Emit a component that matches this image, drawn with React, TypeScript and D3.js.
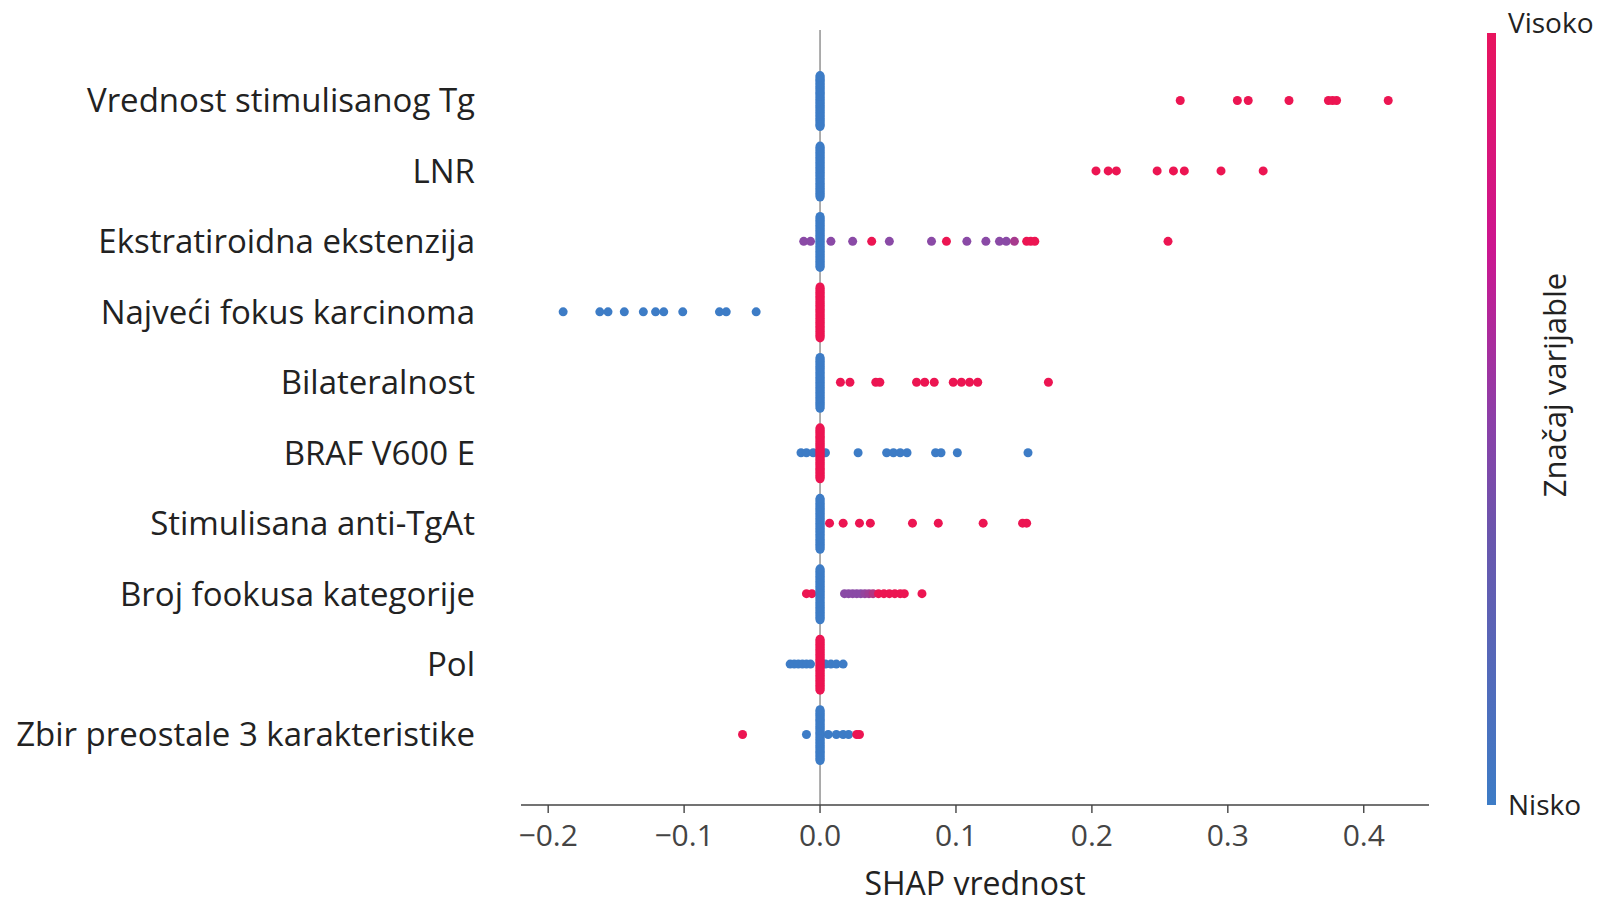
import React from "react";
import * as d3 from "d3";

// ---- data ----
const features = [
  "Vrednost stimulisanog Tg",
  "LNR",
  "Ekstratiroidna ekstenzija",
  "Najveći fokus karcinoma",
  "Bilateralnost",
  "BRAF V600 E",
  "Stimulisana anti-TgAt",
  "Broj fookusa kategorije",
  "Pol",
  "Zbir preostale 3 karakteristike",
];

// feature value (0 = low/blue, 1 = high/red) of the pile of points at SHAP = 0
const zeroPileValue = [0, 0, 0, 1, 0, 1, 0, 0, 1, 0];
const zeroPileCount = [44, 42, 42, 40, 42, 44, 42, 42, 42, 44];

// SHAP values of the non-zero points, per feature
const shapValues: number[][] = [
  [0.265, 0.307, 0.315, 0.345, 0.374, 0.377, 0.38, 0.418],
  [0.203, 0.212, 0.218, 0.248, 0.26, 0.268, 0.295, 0.326],
  [-0.012, -0.007, 0.008, 0.024, 0.038, 0.051, 0.082, 0.093, 0.108, 0.122, 0.132, 0.137, 0.143, 0.152, 0.155, 0.158, 0.256],
  [-0.189, -0.162, -0.156, -0.144, -0.13, -0.121, -0.115, -0.101, -0.074, -0.069, -0.047],
  [0.015, 0.022, 0.041, 0.044, 0.071, 0.077, 0.084, 0.098, 0.104, 0.11, 0.116, 0.168],
  [-0.014, -0.01, -0.005, 0.004, 0.028, 0.049, 0.054, 0.059, 0.064, 0.085, 0.089, 0.101, 0.153],
  [0.007, 0.017, 0.029, 0.037, 0.068, 0.087, 0.12, 0.149, 0.152],
  [-0.01, -0.006, 0.018, 0.021, 0.024, 0.027, 0.03, 0.033, 0.036, 0.039, 0.043, 0.047, 0.051, 0.055, 0.059, 0.062, 0.075],
  [-0.022, -0.019, -0.016, -0.013, -0.01, -0.007, 0.004, 0.008, 0.012, 0.017],
  [-0.057, -0.01, 0.006, 0.012, 0.017, 0.021, 0.027, 0.029],
];

// normalized feature values of those points
const featureValues: number[][] = [
  [1, 1, 1, 1, 1, 1, 1, 1],
  [1, 1, 1, 1, 1, 1, 1, 1],
  [0.5, 0.5, 0.5, 0.5, 1, 0.5, 0.5, 1, 0.5, 0.5, 0.5, 0.5, 0.65, 1, 1, 1, 1],
  [0, 0, 0, 0, 0, 0, 0, 0, 0, 0, 0],
  [1, 1, 1, 1, 1, 1, 1, 1, 1, 1, 1, 1],
  [0, 0, 0, 0, 0, 0, 0, 0, 0, 0, 0, 0, 0],
  [1, 1, 1, 1, 1, 1, 1, 1, 1],
  [1, 1, 0.5, 0.5, 0.5, 0.5, 0.5, 0.55, 0.6, 0.7, 1, 1, 1, 1, 1, 1, 1],
  [0, 0, 0, 0, 0, 0, 0, 0, 0, 0],
  [1, 0, 0, 0, 0, 0, 1, 1],
];

// colorbar gradient stops (bottom = 0, top = 1)
const cbStops = [0, 0.35, 0.5, 0.72, 1];
const cbColors = ["#3d7cc6", "#6a56ad", "#8c3fa8", "#cc1690", "#e8145e"];

const xTicks = [-0.2, -0.1, 0.0, 0.1, 0.2, 0.3, 0.4];
const xDomain = [-0.22, 0.448];

const W = 1603;
const H = 907;
const FONT = "'Open Sans', 'DejaVu Sans', sans-serif";

export default function App() {
  const x = d3.scaleLinear().domain(xDomain).range([521, 1429]);
  const y = d3.scaleLinear().domain([-1, features.length]).range([30, 805]);
  const color = d3
    .scaleLinear<string>()
    .domain([0, 0.5, 1])
    .range(["#3d7cc6", "#8a4aa6", "#ec1552"])
    .interpolate(d3.interpolateRgb);

  const rowStep = y(1) - y(0);
  const pileHalf = rowStep * 0.37;
  const r = 4.5;

  const pileDots = features.flatMap((f, i) => {
    const n = zeroPileCount[i];
    const step = pileHalf / (n / 2);
    return d3.range(n).map((k) => {
      const off = (k % 2 === 0 ? -1 : 1) * Math.ceil(k / 2) * step;
      return { key: `p${i}-${k}`, cx: x(0), cy: y(i) + off, fill: color(zeroPileValue[i]) };
    });
  });

  const dots = features.flatMap((f, i) =>
    shapValues[i].map((v, k) => ({
      key: `d${i}-${k}`,
      cx: x(v),
      cy: y(i),
      fill: color(featureValues[i][k]),
    }))
  );

  const cbTop = 33;
  const cbBottom = 805;
  const cbX = 1487;

  const fmt = (t: number) => (t < 0 ? "\u2212" + Math.abs(t).toFixed(1) : t.toFixed(1));

  return (
    <svg
      width={W}
      height={H}
      style={{ position: "absolute", left: 0, top: 0, background: "#fff" }}
      fontFamily={FONT}
    >
      <defs>
        <linearGradient id="cb" x1="0" y1="1" x2="0" y2="0">
          {cbStops.map((t, i) => (
            <stop key={t} offset={t} stopColor={cbColors[i]} />
          ))}
        </linearGradient>
      </defs>
      <rect width={W} height={H} fill="#fff" />

      {/* zero line */}
      <line x1={x(0)} x2={x(0)} y1={y(-1)} y2={y(features.length)} stroke="#999" strokeWidth={1.6} />

      {/* points */}
      {dots.map((d) => (
        <circle key={d.key} cx={d.cx} cy={d.cy} r={r} fill={d.fill} />
      ))}
      {pileDots.map((d) => (
        <circle key={d.key} cx={d.cx} cy={d.cy} r={r} fill={d.fill} />
      ))}

      {/* feature labels */}
      {features.map((f, i) => (
        <text
          key={f}
          x={475}
          y={y(i)}
          dy="0.36em"
          textAnchor="end"
          fontSize={33}
          fill="#222"
        >
          {f}
        </text>
      ))}

      {/* x axis */}
      <line x1={x.range()[0]} x2={x.range()[1]} y1={805} y2={805} stroke="#444" strokeWidth={1.6} />
      {xTicks.map((t) => (
        <g key={t}>
          <line x1={x(t)} x2={x(t)} y1={805} y2={813} stroke="#444" strokeWidth={1.4} />
          <text x={x(t)} y={846} textAnchor="middle" fontSize={30} fill="#444">
            {fmt(t)}
          </text>
        </g>
      ))}
      <text x={(x.range()[0] + x.range()[1]) / 2} y={895} textAnchor="middle" fontSize={32} fill="#222">
        SHAP vrednost
      </text>

      {/* colorbar */}
      <rect x={cbX} y={cbTop} width={9} height={cbBottom - cbTop} fill="url(#cb)" />
      <text x={1508} y={33} fontSize={28} fill="#222">
        Visoko
      </text>
      <text x={1508} y={815} fontSize={28} fill="#222">
        Nisko
      </text>
      <text
        transform={`translate(1566, 385) rotate(-90)`}
        textAnchor="middle"
        fontSize={31}
        fill="#222"
      >
        Značaj varijable
      </text>
    </svg>
  );
}
